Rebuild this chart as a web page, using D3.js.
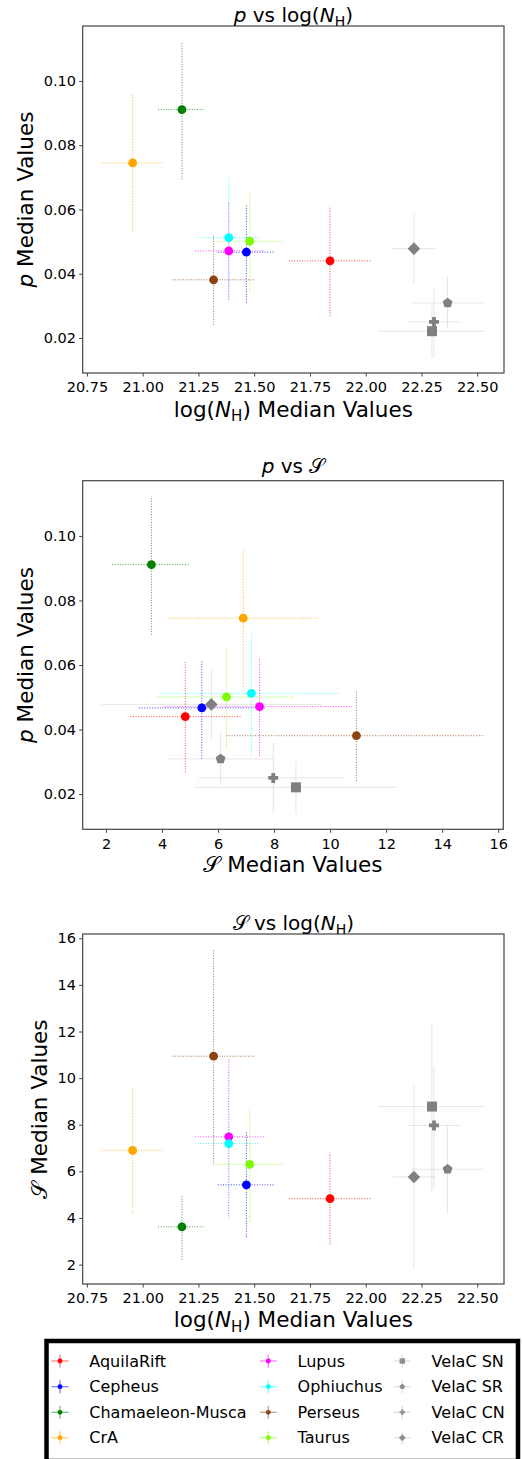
<!DOCTYPE html>
<html><head><meta charset="utf-8">
<script src="https://cdn.jsdelivr.net/npm/d3@7"></script>
<style>
body{margin:0;background:#fff}
svg{display:block}
text{font-family:"DejaVu Sans",sans-serif;fill:#000}
</style>
</head><body>
<svg id="c" width="522" height="1459"></svg>
<script>
// ---------------- data ----------------
const regions = ["AquilaRift","Cepheus","Chamaeleon-Musca","CrA","Lupus","Ophiuchus","Perseus","Taurus","VelaC SN","VelaC SR","VelaC CN","VelaC CR"];
const colors  = ["#ff0000","#0000ff","#008000","#ffa500","#ff00ff","#00ffff","#8b4513","#7cfc00","#808080","#808080","#808080","#808080"];
const markers = ["circle","circle","circle","circle","circle","circle","circle","circle","square","pentagon","plus","diamond"];

const logNH    = [21.840, 21.465, 21.176, 20.955, 21.386, 21.386, 21.318, 21.480, 22.297, 22.367, 22.306, 22.216];
const logNHlo  = [21.656, 21.337, 21.069, 20.817, 21.235, 21.246, 21.134, 21.329, 22.055, 22.206, 22.184, 22.116];
const logNHhi  = [22.026, 21.594, 21.276, 21.090, 21.544, 21.526, 21.507, 21.628, 22.534, 22.526, 22.427, 22.313];

const pMed = [0.0440, 0.0467, 0.0911, 0.0745, 0.0471, 0.0512, 0.0381, 0.0501, 0.0221, 0.0309, 0.0250, 0.0478];
const pLo  = [0.0268, 0.0310, 0.0694, 0.0533, 0.0318, 0.0321, 0.0240, 0.0344, 0.0140, 0.0229, 0.0140, 0.0370];
const pHi  = [0.0609, 0.0614, 0.1122, 0.0958, 0.0621, 0.0696, 0.0519, 0.0656, 0.0302, 0.0391, 0.0359, 0.0588];

const sMed = [4.83, 5.42, 3.62, 6.90, 7.48, 7.19, 10.94, 6.30, 8.78, 6.09, 7.97, 5.76];
const sLo  = [2.87, 3.18, 2.22, 4.20, 4.07, 3.96, 6.30, 3.82, 5.14, 4.17, 5.30, 1.85];
const sHi  = [6.80, 7.70, 4.99, 9.59, 10.84, 10.35, 15.50, 8.72, 12.38, 7.97, 10.49, 9.70];

const nhTicks = [20.75, 21.00, 21.25, 21.50, 21.75, 22.00, 22.25, 22.50];
const pTicks  = [0.02, 0.04, 0.06, 0.08, 0.10];
const sTicks  = [2, 4, 6, 8, 10, 12, 14, 16];

// ---------------- helpers ----------------
const svg = d3.select("#c");
const SCRIPT_S = "\u{1D4AE}";

function markerPath(type){
  if(type==="square"){const h=5;return `M${-h},${-h}H${h}V${h}H${-h}Z`;}
  if(type==="diamond"){const d=6.3;return `M0,${-d}L${d},0L0,${d}L${-d},0Z`;}
  if(type==="pentagon"){const r=5.2;let p="";for(let k=0;k<5;k++){const a=(-90+72*k)*Math.PI/180;p+=(k?"L":"M")+(r*Math.cos(a)).toFixed(2)+","+(r*Math.sin(a)).toFixed(2);}return p+"Z";}
  if(type==="plus"){const a=5,w=1.9;return `M${-w},${-a}H${w}V${-w}H${a}V${w}H${w}V${a}H${-w}V${w}H${-a}V${-w}H${-w}Z`;}
  return d3.symbol(d3.symbolCircle, Math.PI*4.4*4.4)();
}

function addRich(sel, parts, size){
  parts.forEach((p,i)=>{
    const t = sel.append("tspan").text(p.t);
    if(p.it) t.attr("font-style","italic");
    if(p.sub){ t.attr("font-size", size*0.7).attr("dy", size*0.22); }
    if(p.after){ t.attr("dy", -size*0.22); }
  });
}

function partsFor(key){
  if(key==="nh") return [{t:"log("},{t:"N",it:true},{t:"H",sub:true},{t:")",after:true}];
  if(key==="p") return [{t:"p",it:true}];
  return [{t:SCRIPT_S}];
}

function drawPanel(cfg){
  const {box, xKey, yKey, xs, xlo, xhi, ys, ylo, yhi, xTicks, yTicks, xFmt, yFmt, title, yLabX, titleY, xLabY} = cfg;
  const ext = (lo,hi)=>{const mn=d3.min(lo), mx=d3.max(hi), r=mx-mn; return [mn-0.05*r, mx+0.05*r];};
  const x = d3.scaleLinear().domain(ext(xlo,xhi)).range([box.l, box.r]);
  const y = d3.scaleLinear().domain(ext(ylo,yhi)).range([box.b, box.t]);
  const g = svg.append("g");

  // error bars + markers
  regions.forEach((r,i)=>{
    const gray = markers[i] !== "circle";
    const eb = g.append("g")
      .attr("stroke", colors[i])
      .attr("stroke-width", 1)
      .attr("stroke-opacity", gray ? 0.2 : 0.75)
      .attr("stroke-dasharray", gray ? null : "1,1.6");
    eb.append("line").attr("x1", x(xlo[i])).attr("x2", x(xhi[i])).attr("y1", y(ys[i])).attr("y2", y(ys[i]));
    eb.append("line").attr("x1", x(xs[i])).attr("x2", x(xs[i])).attr("y1", y(ylo[i])).attr("y2", y(yhi[i]));
  });
  regions.forEach((r,i)=>{
    g.append("path").attr("d", markerPath(markers[i]))
      .attr("transform", `translate(${x(xs[i])},${y(ys[i])})`)
      .attr("fill", colors[i]);
  });

  // frame
  g.append("rect").attr("x", box.l).attr("y", box.t).attr("width", box.r-box.l).attr("height", box.b-box.t)
    .attr("fill","none").attr("stroke","#444").attr("stroke-width",1.2);

  // axes
  const ax = g.append("g").attr("transform",`translate(0,${box.b})`)
    .call(d3.axisBottom(x).tickValues(xTicks).tickFormat(d3.format(xFmt)).tickSize(3.5).tickPadding(5.5));
  const ay = g.append("g").attr("transform",`translate(${box.l},0)`)
    .call(d3.axisLeft(y).tickValues(yTicks).tickFormat(d3.format(yFmt)).tickSize(3.5).tickPadding(3.2));
  [ax,ay].forEach(a=>{
    a.select(".domain").remove();
    a.selectAll("line").attr("stroke","#444");
    a.selectAll("text").attr("font-size","14.5px").attr("font-family","DejaVu Sans").attr("fill","#000");
  });

  // title
  const t = g.append("text").attr("x",(box.l+box.r)/2).attr("y",titleY).attr("text-anchor","middle").attr("font-size",20);
  addRich(t, title, 20);
  // x label
  const xl = g.append("text").attr("x",(box.l+box.r)/2).attr("y",xLabY).attr("text-anchor","middle").attr("font-size",21.5);
  addRich(xl, partsFor(xKey).concat([{t:" Median Values"}]), 21.5);
  // y label
  const yl = g.append("text").attr("transform",`translate(${yLabX},${(box.t+box.b)/2}) rotate(-90)`)
    .attr("text-anchor","middle").attr("font-size",21.5);
  addRich(yl, partsFor(yKey).concat([{t:" Median Values"}]), 21.5);
}

drawPanel({
  box:{l:82.7,r:504,t:26,b:373}, xKey:"nh", yKey:"p",
  xs:logNH, xlo:logNHlo, xhi:logNHhi, ys:pMed, ylo:pLo, yhi:pHi,
  xTicks:nhTicks, yTicks:pTicks, xFmt:".2f", yFmt:".2f",
  title:[{t:"p",it:true},{t:" vs log("},{t:"N",it:true},{t:"H",sub:true},{t:")",after:true}],
  yLabX:33, titleY:21.5, xLabY:416.5
});
drawPanel({
  box:{l:82.7,r:503.3,t:480.7,b:829.3}, xKey:"s", yKey:"p",
  xs:sMed, xlo:sLo, xhi:sHi, ys:pMed, ylo:pLo, yhi:pHi,
  xTicks:sTicks, yTicks:pTicks, xFmt:"d", yFmt:".2f",
  title:[{t:"p",it:true},{t:" vs "},{t:SCRIPT_S}],
  yLabX:33, titleY:473.3, xLabY:871.5
});
drawPanel({
  box:{l:82.7,r:504,t:934,b:1284}, xKey:"nh", yKey:"s",
  xs:logNH, xlo:logNHlo, xhi:logNHhi, ys:sMed, ylo:sLo, yhi:sHi,
  xTicks:nhTicks, yTicks:sTicks, xFmt:".2f", yFmt:"d",
  title:[{t:SCRIPT_S},{t:" vs log("},{t:"N",it:true},{t:"H",sub:true},{t:")",after:true}],
  yLabX:47, titleY:930, xLabY:1327
});

// ---------------- legend ----------------
const lg = svg.append("g");
lg.append("rect").attr("x",46.5).attr("y",1341).attr("width",471.5).attr("height",120)
  .attr("fill","#fff").attr("stroke","#000").attr("stroke-width",4.5);
const colX = [60, 268.3, 402.3], textOff = 29.3, rowY = [1361, 1386.7, 1412.3, 1437.7];
regions.forEach((r,i)=>{
  const c = Math.floor(i/4), row = i%4;
  const mx = colX[c], my = rowY[row];
  const gray = markers[i] !== "circle";
  const it = lg.append("g").attr("transform",`translate(${mx},${my})`);
  it.append("line").attr("x1",-8.5).attr("x2",8.5).attr("stroke",colors[i]).attr("stroke-opacity",gray?0.25:0.5).attr("stroke-width",1.3);
  it.append("line").attr("y1",-6.5).attr("y2",6.5).attr("stroke",colors[i]).attr("stroke-opacity",gray?0.25:0.5).attr("stroke-width",1.3);
  it.append("path").attr("d", markerPath(markers[i])).attr("transform","scale(0.55)").attr("fill",colors[i]).attr("fill-opacity", gray?0.85:1);
  lg.append("text").attr("x", mx+textOff).attr("y", my).attr("dy","0.36em").attr("font-size",16).text(r);
});
</script>
</body></html>
